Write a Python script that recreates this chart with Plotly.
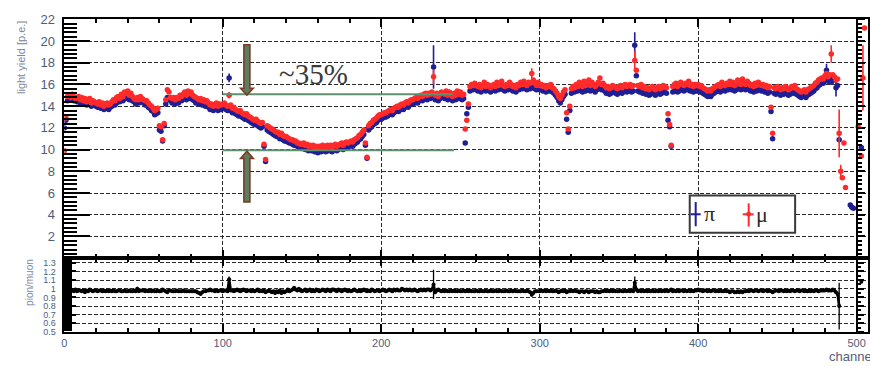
import plotly.graph_objects as go

# ---------------- data ----------------
channel = list(range(507))

pion_ly = [
    12.0, 12.7, 14.5, 14.7, 14.6, 14.8, 14.5, 14.6, 14.4, 14.5,
    14.3, 14.4, 14.2, 14.3, 14.1, 14.2, 14.4, 14.0, 14.1, 14.2,
    14.0, 13.9, 14.1, 13.8, 13.9, 13.7, 13.8, 14.0, 13.7, 13.9,
    14.0, 14.2, 14.1, 14.3, 14.5, 14.4, 14.6, 14.5, 14.8, 14.7,
    14.9, 14.6, 14.8, 14.5, 14.4, 14.2, 14.4, 14.3, 14.5, 14.4,
    14.3, 14.1, 14.2, 13.9, 13.8, 13.6, 13.5, 13.2, 13.3, 13.4,
    11.8, 11.7, 10.8, 12.2, 14.2, 14.8, 14.7, 14.5, 14.3, 14.4,
    14.2, 14.4, 14.3, 14.6, 14.5, 14.7, 14.8, 14.6, 14.9, 14.7,
    14.8, 14.6, 14.5, 14.3, 14.4, 14.2, 14.3, 14.1, 14.2, 14.0,
    14.1, 13.9, 13.7, 13.8, 13.6, 13.7, 13.9, 13.6, 13.8, 13.7,
    13.8, 13.9, 13.7, 13.6, 16.6, 13.6, 13.4, 13.5, 13.3, 13.2,
    13.1, 13.2, 13.0, 12.9, 12.8, 12.9, 12.7, 12.6, 12.5, 12.4,
    12.3, 12.4, 12.2, 12.1, 12.0, 12.1, 10.3, 8.9, 11.8, 11.7,
    11.6, 11.5, 11.4, 11.3, 11.2, 11.2, 11.0, 11.1, 10.9, 10.8,
    10.8, 10.7, 10.6, 10.6, 10.5, 10.4, 10.4, 10.3, 10.2, 10.2,
    10.1, 10.2, 10.0, 10.1, 9.9, 10.0, 9.9, 10.0, 9.8, 9.9,
    9.7, 9.9, 9.8, 10.0, 9.9, 9.8, 10.0, 9.9, 10.0, 9.8,
    10.0, 10.1, 9.9, 10.0, 10.1, 10.2, 10.0, 10.2, 10.3, 10.2,
    10.3, 10.4, 10.3, 10.5, 10.6, 10.7, 10.9, 11.0, 11.2, 11.4,
    10.4, 9.2, 11.8, 12.0, 12.1, 12.3, 12.4, 12.5, 12.7, 12.8,
    12.8, 12.9, 13.0, 13.0, 13.1, 13.2, 13.3, 13.2, 13.4, 13.5,
    13.6, 13.5, 13.7, 13.8, 13.7, 13.9, 14.0, 13.9, 14.1, 14.2,
    14.2, 14.3, 14.4, 14.3, 14.5, 14.6, 14.5, 14.7, 14.8, 14.6,
    14.8, 14.7, 14.9, 17.6, 14.6, 14.8, 14.5, 14.7, 14.9, 14.8,
    14.7, 14.9, 14.6, 14.8, 14.7, 14.5, 14.8, 14.6, 14.9, 14.7,
    14.8, 14.6, 14.7, 10.6, 13.3, 13.9, 15.4, 15.6, 15.5, 15.7,
    15.5, 15.4, 15.6, 15.3, 15.5, 15.7, 15.4, 15.6, 15.5, 15.3,
    15.5, 15.6, 15.4, 15.7, 15.5, 15.6, 15.8, 15.5, 15.4, 15.6,
    15.5, 15.7, 15.6, 15.4, 15.5, 15.3, 15.6, 15.5, 15.7, 15.6,
    15.8, 15.6, 15.5, 15.7, 15.6, 15.9, 15.7, 15.6, 15.5, 15.7,
    15.5, 15.6, 15.4, 15.5, 15.3, 15.5, 15.4, 15.6, 15.3, 15.2,
    15.0, 14.8, 14.5, 14.3, 14.6, 14.9, 15.1, 12.8, 11.6, 13.6,
    15.2, 15.4, 15.3, 15.5, 15.4, 15.6, 15.5, 15.3, 15.6, 15.4,
    15.5, 15.7, 15.4, 15.6, 15.5, 15.3, 15.5, 15.6, 15.8, 15.5,
    15.6, 15.4, 15.2, 15.3, 15.1, 15.2, 15.4, 15.3, 15.2, 15.1,
    15.3, 15.4, 15.2, 15.4, 15.5, 15.3, 15.4, 15.5, 15.3, 15.4,
    19.6, 16.8, 15.4, 15.3, 15.5, 15.2, 15.3, 15.1, 15.2, 15.0,
    15.1, 15.3, 15.2, 15.0, 15.2, 15.3, 15.1, 15.2, 15.4, 15.3,
    15.2, 12.7, 12.1, 10.3, 15.3, 15.4, 15.5, 15.3, 15.4, 15.6,
    15.5, 15.4, 15.6, 15.5, 15.7, 15.4, 15.5, 15.3, 15.5, 15.4,
    15.5, 15.3, 15.4, 15.2, 15.1, 15.0, 14.9, 15.0, 14.9, 15.1,
    15.2, 15.3, 15.4, 15.5, 15.3, 15.6, 15.5, 15.4, 15.6, 15.5,
    15.7, 15.5, 15.6, 15.4, 15.5, 15.7, 15.6, 15.5, 15.8, 15.6,
    15.5, 15.7, 15.6, 15.4, 15.5, 15.3, 15.5, 15.4, 15.6, 15.5,
    15.4, 15.5, 15.3, 15.4, 15.2, 15.3, 13.5, 11.0, 15.2, 15.1,
    15.3, 15.2, 15.0, 15.2, 15.1, 15.3, 15.2, 15.0, 15.1, 15.3,
    15.2, 15.4, 15.1, 15.0, 14.9, 14.8, 14.9, 15.0, 14.8, 15.0,
    15.1, 15.2, 15.3, 15.4, 15.6, 15.7, 15.9, 16.0, 16.2, 16.1,
    16.4, 17.3, 16.3, 16.5, 16.2, 16.6, 16.4, 15.7, 15.9, 10.9,
    None, None, None, None, None, None, 4.9, 4.7, 4.6, None,
    None, None, None, 10.2, None, None, None,
]

muon_ly = [
    9.9, 12.9, 14.9, 15.0, 14.8, 15.1, 14.9, 14.7, 14.8, 14.9,
    14.6, 14.8, 14.5, 14.7, 14.4, 14.6, 14.7, 14.3, 14.5, 14.4,
    14.3, 14.2, 14.4, 14.1, 14.3, 14.0, 14.2, 14.3, 14.1, 14.2,
    14.4, 14.6, 14.5, 14.8, 14.9, 14.7, 15.1, 14.9, 15.3, 15.2,
    15.4, 15.0, 15.2, 14.9, 14.7, 14.6, 14.8, 14.6, 14.9, 14.7,
    14.6, 14.5, 14.5, 14.3, 14.1, 14.0, 13.8, 13.6, 13.7, 13.8,
    12.2, 12.1, 10.9, 12.4, 14.6, 15.5, 15.3, 14.8, 14.7, 14.8,
    14.6, 14.8, 14.7, 15.0, 14.9, 15.1, 15.3, 15.0, 15.4, 15.2,
    15.3, 15.0, 14.9, 14.8, 14.7, 14.6, 14.7, 14.5, 14.6, 14.4,
    14.5, 14.3, 14.1, 14.2, 14.0, 14.1, 14.3, 14.0, 14.2, 14.1,
    14.2, 14.3, 14.1, 14.0, 15.0, 14.1, 13.8, 13.9, 13.7, 13.6,
    13.5, 13.6, 13.4, 13.3, 13.2, 13.3, 13.1, 13.0, 12.9, 12.8,
    12.7, 12.8, 12.6, 12.5, 12.4, 12.5, 10.5, 9.1, 12.2, 12.1,
    12.0, 11.9, 11.8, 11.7, 11.6, 11.6, 11.4, 11.5, 11.3, 11.2,
    11.2, 11.1, 11.0, 10.9, 10.9, 10.8, 10.8, 10.6, 10.6, 10.5,
    10.5, 10.6, 10.4, 10.5, 10.3, 10.4, 10.3, 10.4, 10.2, 10.3,
    10.2, 10.3, 10.2, 10.4, 10.3, 10.2, 10.4, 10.3, 10.4, 10.2,
    10.4, 10.5, 10.3, 10.4, 10.5, 10.6, 10.4, 10.6, 10.7, 10.6,
    10.7, 10.8, 10.7, 10.9, 11.0, 11.1, 11.3, 11.4, 11.6, 11.8,
    10.6, 9.3, 12.2, 12.4, 12.5, 12.7, 12.8, 12.9, 13.1, 13.2,
    13.2, 13.3, 13.4, 13.4, 13.5, 13.6, 13.7, 13.6, 13.8, 13.9,
    14.0, 13.9, 14.1, 14.2, 14.1, 14.3, 14.4, 14.3, 14.5, 14.6,
    14.6, 14.7, 14.8, 14.7, 14.9, 15.0, 14.9, 15.1, 15.2, 15.0,
    15.2, 15.1, 15.3, 16.7, 15.0, 15.2, 14.9, 15.1, 15.3, 15.2,
    15.1, 15.4, 15.0, 15.3, 15.1, 14.9, 15.2, 15.0, 15.4, 15.1,
    15.3, 15.0, 15.1, 11.9, 12.7, 14.2, 15.8, 16.0, 15.9, 16.1,
    15.9, 15.8, 16.0, 15.7, 15.9, 16.2, 15.8, 16.0, 15.9, 15.7,
    15.9, 16.0, 15.8, 16.2, 15.9, 16.1, 16.3, 15.9, 15.8, 16.0,
    15.9, 16.2, 16.0, 15.8, 15.9, 15.7, 16.0, 15.9, 16.2, 16.0,
    16.3, 16.0, 15.9, 16.2, 16.1, 17.0, 16.4, 16.1, 15.9, 16.2,
    15.9, 16.0, 15.8, 15.9, 15.7, 15.9, 15.8, 16.0, 15.7, 15.6,
    15.4, 15.2, 14.9, 14.7, 15.0, 15.3, 15.5, 13.4, 11.9, 14.0,
    15.6, 15.8, 15.7, 16.0, 15.8, 16.2, 16.0, 15.8, 16.3, 15.9,
    16.0, 16.4, 15.9, 16.2, 16.0, 15.8, 16.0, 16.2, 16.6, 16.0,
    16.1, 15.9, 15.7, 15.8, 15.6, 15.7, 15.9, 15.8, 15.7, 15.6,
    15.8, 15.9, 15.7, 15.9, 16.0, 15.8, 15.9, 16.0, 15.8, 15.9,
    18.2, 17.3, 15.9, 15.8, 16.0, 15.7, 15.8, 15.6, 15.7, 15.5,
    15.6, 15.8, 15.7, 15.5, 15.7, 15.8, 15.6, 15.7, 15.9, 15.8,
    15.7, 13.3, 12.3, 10.4, 15.8, 16.0, 16.1, 15.8, 16.0, 16.2,
    16.0, 15.9, 16.1, 16.0, 16.3, 15.9, 16.0, 15.8, 16.0, 15.9,
    16.0, 15.8, 15.9, 15.7, 15.6, 15.5, 15.4, 15.5, 15.4, 15.6,
    15.7, 15.8, 15.9, 16.0, 15.8, 16.2, 16.0, 15.9, 16.1, 16.0,
    16.3, 16.0, 16.2, 15.9, 16.0, 16.4, 16.2, 16.0, 16.5, 16.1,
    16.0, 16.3, 16.1, 15.9, 16.0, 15.8, 16.1, 15.9, 16.2, 16.0,
    15.9, 16.0, 15.8, 15.9, 15.7, 15.8, 13.9, 11.5, 15.7, 15.6,
    15.8, 15.7, 15.5, 15.7, 15.6, 15.8, 15.7, 15.5, 15.6, 15.8,
    15.7, 15.9, 15.6, 15.5, 15.4, 15.3, 15.4, 15.5, 15.3, 15.5,
    15.6, 15.7, 15.8, 15.9, 16.1, 16.2, 16.4, 16.5, 16.6, 16.5,
    16.8, 17.0, 16.7, 16.9, 18.8, 16.9, 16.7, 16.4, 16.5, 11.5,
    8.0, 7.4, 10.6, 6.5, None, None, None, None, None, None,
    None, 12.1, None, 9.4, 16.6, 21.2, None,
]

ratio = [
    1.02, 0.98, 0.97, 0.98, 0.99, 0.98, 0.97, 0.99, 0.97, 0.98,
    0.98, 0.97, 0.98, 0.96, 0.98, 0.97, 0.99, 0.98, 0.97, 0.98,
    0.98, 0.97, 0.98, 0.98, 0.97, 0.98, 0.97, 0.98, 0.97, 0.98,
    0.97, 0.98, 0.97, 0.97, 0.98, 0.98, 0.97, 0.97, 0.98, 0.97,
    0.97, 0.98, 0.97, 0.97, 0.98, 0.97, 1.00, 0.97, 0.98, 0.98,
    0.98, 0.97, 0.98, 0.97, 0.98, 0.97, 0.98, 0.97, 0.97, 0.98,
    0.97, 0.97, 0.99, 0.98, 0.97, 0.96, 0.98, 0.98, 0.97, 0.97,
    0.97, 0.98, 0.97, 0.97, 0.97, 0.98, 0.97, 0.97, 0.97, 0.97,
    0.97, 0.97, 0.97, 0.97, 0.96, 0.95, 0.94, 0.96, 0.97, 0.97,
    0.98, 0.98, 0.99, 0.98, 0.98, 0.97, 0.98, 0.97, 0.98, 0.98,
    0.97, 0.98, 0.98, 0.97, 1.11, 0.98, 0.98, 0.97, 0.98, 0.99,
    0.98, 0.97, 0.98, 0.99, 0.98, 0.97, 0.98, 0.98, 0.97, 0.98,
    0.97, 0.98, 0.99, 0.97, 0.98, 0.97, 0.98, 0.96, 0.97, 0.98,
    0.97, 0.96, 0.97, 0.95, 0.97, 0.96, 0.98, 0.95, 0.97, 0.96,
    0.97, 0.99, 0.97, 0.98, 0.99, 1.01, 0.99, 0.98, 1.00, 0.98,
    0.97, 0.98, 0.99, 0.97, 0.98, 0.99, 0.97, 0.98, 0.97, 0.99,
    0.98, 0.97, 0.98, 0.99, 0.98, 0.97, 0.99, 0.98, 0.97, 0.99,
    0.99, 0.98, 0.97, 0.99, 0.98, 0.97, 0.98, 0.99, 0.98, 0.97,
    0.98, 0.97, 0.98, 0.99, 0.98, 0.97, 0.98, 0.97, 0.98, 0.99,
    0.98, 0.97, 0.98, 0.97, 0.99, 0.98, 0.97, 0.98, 0.98, 0.97,
    0.98, 0.99, 0.98, 0.97, 0.98, 0.99, 0.98, 0.97, 0.99, 0.98,
    0.99, 0.98, 0.98, 1.00, 0.99, 0.98, 0.99, 0.98, 0.99, 0.98,
    0.98, 0.99, 0.98, 0.97, 0.98, 0.99, 0.98, 0.99, 0.98, 0.99,
    0.99, 0.98, 0.99, 1.05, 0.96, 0.98, 0.99, 0.98, 0.97, 0.98,
    0.97, 0.98, 0.97, 0.97, 0.98, 0.97, 0.98, 0.97, 0.97, 0.98,
    0.97, 0.97, 0.98, 0.97, 0.98, 0.97, 0.98, 0.97, 0.97, 0.97,
    0.98, 0.97, 0.97, 0.98, 0.97, 0.97, 0.98, 0.97, 0.97, 0.98,
    0.97, 0.97, 0.98, 0.97, 0.97, 0.98, 0.97, 0.97, 0.97, 0.98,
    0.97, 0.97, 0.98, 0.97, 0.98, 0.97, 0.97, 0.97, 0.97, 0.98,
    0.97, 0.97, 0.98, 0.97, 0.96, 0.93, 0.95, 0.97, 0.97, 0.97,
    0.97, 0.98, 0.97, 0.98, 0.97, 0.98, 0.97, 0.98, 0.97, 0.97,
    0.98, 0.97, 0.96, 0.97, 0.98, 0.97, 0.98, 0.96, 0.97, 0.97,
    0.98, 0.97, 0.98, 0.97, 0.97, 0.96, 0.97, 0.97, 0.96, 0.97,
    0.97, 0.96, 0.97, 0.97, 0.97, 0.96, 0.97, 0.96, 0.96, 0.97,
    0.97, 0.98, 0.97, 0.98, 0.97, 0.98, 0.97, 0.98, 0.97, 0.97,
    0.97, 0.98, 0.97, 0.97, 0.98, 0.97, 0.98, 0.97, 0.98, 0.97,
    1.07, 0.99, 0.97, 0.98, 0.97, 0.98, 0.97, 0.98, 0.97, 0.98,
    0.97, 0.98, 0.97, 0.97, 0.98, 0.97, 0.98, 0.97, 0.98, 0.97,
    0.98, 0.97, 0.98, 0.99, 0.97, 0.98, 0.97, 0.98, 0.97, 0.98,
    0.98, 0.97, 0.98, 0.97, 0.98, 0.97, 0.98, 0.97, 0.98, 0.98,
    0.99, 0.98, 0.98, 0.97, 0.98, 0.98, 0.97, 0.98, 0.97, 0.98,
    0.98, 0.97, 0.98, 0.97, 0.98, 0.97, 0.97, 0.98, 0.97, 0.97,
    0.96, 0.97, 0.97, 0.96, 0.96, 0.97, 0.96, 0.97, 0.96, 0.97,
    0.97, 0.98, 0.97, 0.98, 0.98, 0.97, 0.98, 0.98, 0.97, 0.98,
    0.98, 0.97, 0.98, 0.98, 0.97, 0.98, 0.97, 0.96, 0.97, 0.98,
    0.98, 0.97, 0.98, 0.98, 0.97, 0.98, 0.97, 0.98, 0.97, 0.98,
    0.98, 0.97, 0.98, 0.98, 0.97, 0.98, 0.98, 0.97, 0.98, 0.97,
    0.98, 0.97, 0.98, 0.97, 0.98, 0.98, 0.97, 0.98, 0.98, 0.98,
    0.98, 0.99, 0.98, 0.98, 0.98, 0.99, 0.98, 0.96, 0.94, 0.80,
    None, None, None, None, None, None, None, None, None, None,
    None, None, None, 1.08, None, None, None,
]

# larger-than-marker error bars (channel -> half width)
pion_err = {104: 0.4, 233: 2.0, 360: 1.2, 481: 0.6, 487: 0.8}
muon_err = {104: 0.3, 233: 0.7, 295: 0.5, 360: 0.9, 484: 0.8,
            489: 2.2, 490: 0.6, 504: 3.0}
ratio_err = {104: 0.03, 233: 0.17, 360: 0.07, 489: 0.27}

y_ticks_top = [2, 4, 6, 8, 10, 12, 14, 16, 18, 20, 22]
annot_text = "~35%"

# ---------------- figure ----------------
W, H = 870, 366
BLUE = "#1e1e96"
RED = "#ff2a2a"
TICKCOL = "#4f5d7a"


def px(x):
    return x / W


def py(y):
    return 1 - y / H


def errs(d):
    return [d.get(c, 0) for c in channel]


X_DOM = [px(61.7), 1.0]
TOP_DOM = [py(259.5), py(12.7)]
BOT_DOM = [py(336.0), py(259.5)]
XR = [0, 507.2]

fig = go.Figure()

fig.add_trace(go.Scatter(
    x=channel, y=pion_ly, mode="markers", xaxis="x", yaxis="y",
    marker=dict(color=BLUE, size=5.5),
    error_y=dict(type="data", array=errs(pion_err), color=BLUE, thickness=1.6, width=0),
))
fig.add_trace(go.Scatter(
    x=channel, y=muon_ly, mode="markers", xaxis="x", yaxis="y",
    marker=dict(color=RED, size=5.5),
    error_y=dict(type="data", array=errs(muon_err), color=RED, thickness=1.6, width=0),
))
fig.add_trace(go.Scatter(
    x=channel, y=ratio, mode="lines+markers", xaxis="x2", yaxis="y2",
    line=dict(color="black", width=2.6), marker=dict(color="black", size=4),
    connectgaps=False,
    error_y=dict(type="data", array=errs(ratio_err), color="black", thickness=1.3, width=0),
))
# helper traces so the extra frame axes at channel 500 are drawn
fig.add_trace(go.Scatter(x=[None], y=[None], xaxis="x", yaxis="y3", showlegend=False))
fig.add_trace(go.Scatter(x=[None], y=[None], xaxis="x2", yaxis="y4", showlegend=False))

grid = dict(showgrid=True, gridcolor="#2a2a2a", gridwidth=1, griddash="4px,2px")
tickfont_main = dict(family="Liberation Sans", size=13, color=TICKCOL)

xcommon = dict(domain=X_DOM, range=XR, dtick=100, tick0=0, ticks="inside", ticklen=8,
               tickwidth=1.5, tickcolor="black", showline=True, linecolor="black",
               linewidth=1.5, mirror="ticks", zeroline=False,
               minor=dict(dtick=20, tick0=0, ticks="inside", ticklen=4, tickcolor="black",
                          showgrid=False),
               **grid)

fig.update_layout(
    width=W, height=H, margin=dict(l=0, r=0, t=0, b=0),
    paper_bgcolor="white", plot_bgcolor="white", showlegend=False,
    xaxis=dict(anchor="y", showticklabels=False, **xcommon),
    xaxis2=dict(anchor="y2", showticklabels=True,
                tickfont=dict(family="Liberation Sans", size=11, color=TICKCOL),
                **xcommon),
    yaxis=dict(domain=TOP_DOM, range=[0.02, 22], anchor="x", tickmode="array",
               tickvals=y_ticks_top, ticks="inside", ticklen=26, tickwidth=2,
               tickcolor="black", showline=True, linecolor="black", linewidth=1.5,
               mirror=True, zeroline=False, tickfont=tickfont_main, ticklabelstandoff=5,
               minor=dict(dtick=0.4, tick0=0, ticks="inside", ticklen=13, tickwidth=1.6,
                          tickcolor="black", showgrid=False),
               **grid),
    yaxis2=dict(domain=BOT_DOM, range=[0.5, 1.355], anchor="x2", dtick=0.1, tick0=0.5,
                ticks="inside", ticklen=12, tickwidth=2, tickcolor="black",
                showline=True, linecolor="black", linewidth=1.5, mirror=True,
                zeroline=False, ticklabelstandoff=5,
                tickfont=dict(family="Liberation Sans", size=9, color=TICKCOL),
                minor=dict(dtick=0.02, tick0=0.5, ticks="inside", ticklen=8, tickwidth=1.5,
                           tickcolor="black", showgrid=False),
                **grid),
    yaxis3=dict(overlaying="y", anchor="free", position=px(858.5), side="right",
                range=[0.02, 22], showgrid=False, zeroline=False, showticklabels=False,
                showline=True, linecolor="black", linewidth=2, ticks="outside",
                ticklen=7, tickwidth=1.5, tickcolor="black", dtick=2, tick0=0,
                minor=dict(dtick=0.4, ticks="outside", ticklen=4, tickcolor="black")),
    yaxis4=dict(overlaying="y2", anchor="free", position=px(858.5), side="right",
                range=[0.5, 1.355], showgrid=False, zeroline=False, showticklabels=False,
                showline=True, linecolor="black", linewidth=2, ticks="outside",
                ticklen=6, tickwidth=1.5, tickcolor="black", dtick=0.1, tick0=0.5,
                minor=dict(dtick=0.05, ticks="outside", ticklen=3, tickcolor="black")),
)

# ---------------- annotations ----------------
GREEN = "#5f9070"
fig.add_shape(type="line", xref="x", yref="y", x0=100, x1=245, y0=15.1, y1=15.1,
              line=dict(color=GREEN, width=2))
fig.add_shape(type="line", xref="x", yref="y", x0=100, x1=246, y0=9.94, y1=9.94,
              line=dict(color=GREEN, width=2))


def arrow_path(points):
    s = "M " + " L ".join(f"{px(a):.5f},{py(b):.5f}" for a, b in points) + " Z"
    return s


down = [(242.3, 39), (248.3, 39), (248.3, 84), (251.7, 84), (245.3, 91),
        (239, 84), (242.3, 84)]
up = [(245.3, 149), (251.7, 156.5), (248.3, 156.5), (248.3, 201.5), (242.3, 201.5),
      (242.3, 156.5), (239, 156.5)]
for pts in (down, up):
    fig.add_shape(type="path", xref="paper", yref="paper", path=arrow_path(pts),
                  fillcolor="#5d7d60", line=dict(color="#7b3b25", width=1.6))

fig.add_annotation(text=annot_text, xref="paper", yref="paper", x=px(276), y=py(69),
                   xanchor="left", yanchor="middle", showarrow=False,
                   font=dict(family="Liberation Serif", size=29, color="#3a3a3a"))

# legend box
fig.add_shape(type="rect", xref="paper", yref="paper", x0=px(690.7), x1=px(796.7),
              y0=py(233.3), y1=py(195), fillcolor="white",
              line=dict(color="#3a3a3a", width=2))
fig.add_shape(type="line", xref="paper", yref="paper", x0=px(696.7), x1=px(696.7),
              y0=py(226.7), y1=py(201.7), line=dict(color=BLUE, width=2))
fig.add_shape(type="line", xref="paper", yref="paper", x0=px(691.7), x1=px(701.7),
              y0=py(214.3), y1=py(214.3), line=dict(color=BLUE, width=2))
fig.add_shape(type="line", xref="paper", yref="paper", x0=px(750), x1=px(750),
              y0=py(227), y1=py(203), line=dict(color=RED, width=2))
fig.add_shape(type="line", xref="paper", yref="paper", x0=px(744), x1=px(755),
              y0=py(214.3), y1=py(214.3), line=dict(color=RED, width=2))
fig.add_shape(type="circle", xref="paper", yref="paper", x0=px(747.5), x1=px(752.5),
              y0=py(216.8), y1=py(211.8), fillcolor=RED, line=dict(color=RED, width=0))
fig.add_annotation(text="π", xref="paper", yref="paper", x=px(703), y=py(213),
                   xanchor="left", yanchor="middle", showarrow=False,
                   font=dict(family="Liberation Serif", size=22, color="#2a2a2a"))
fig.add_annotation(text="μ", xref="paper", yref="paper", x=px(755.5), y=py(215),
                   xanchor="left", yanchor="middle", showarrow=False,
                   font=dict(family="Liberation Serif", size=22, color="#2a2a2a"))

# axis titles
fig.add_annotation(text="light yield [p.e.]", xref="paper", yref="paper", x=px(18),
                   y=py(12), xanchor="center", yanchor="top", textangle=-90,
                   showarrow=False,
                   font=dict(family="Liberation Sans", size=11, color="#7c879c"))
fig.add_annotation(text="pion/muon", xref="paper", yref="paper", x=px(26),
                   y=py(258), xanchor="center", yanchor="top", textangle=-90,
                   showarrow=False,
                   font=dict(family="Liberation Sans", size=10, color="#7c879c"))
fig.add_annotation(text="channel", xref="paper", yref="paper", x=px(829),
                   y=py(361), xanchor="left", yanchor="middle", showarrow=False,
                   font=dict(family="Liberation Sans", size=13, color="#4f5d7a"))

fig.write_html("out.html")
